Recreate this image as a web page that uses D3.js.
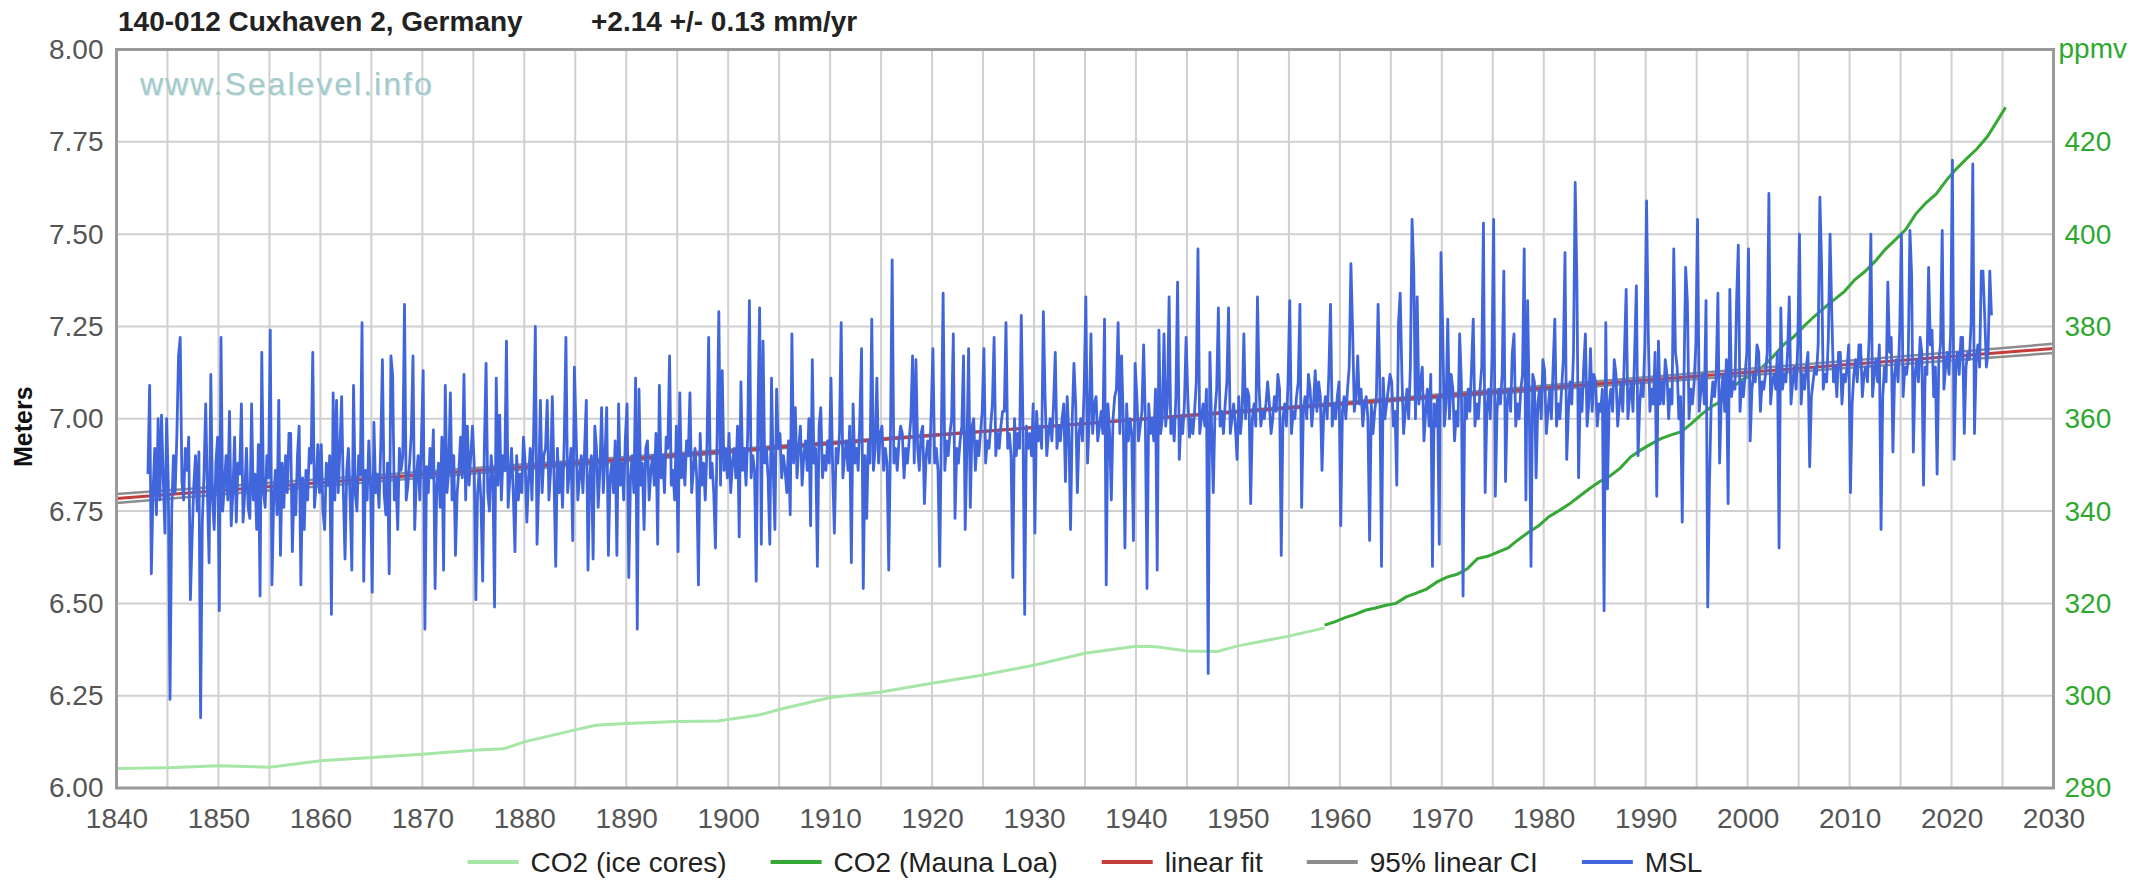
<!DOCTYPE html>
<html><head><meta charset="utf-8">
<script src="https://cdn.jsdelivr.net/npm/d3@7"></script>
<style>
html,body{margin:0;padding:0;background:#fff;}
svg{display:block;font-family:"Liberation Sans",Arial,sans-serif;}
</style></head><body>
<svg id="chart" width="2135" height="880"></svg>
<script>
// ---------- texts ----------
const titleStation = "140-012 Cuxhaven 2, Germany";
const titleRate = "+2.14 +/- 0.13 mm/yr";
const leftAxisTitle = "Meters";
const rightAxisTitle = "ppmv";
const watermarkText = "www.Sealevel.info";
const legendLabels = ["CO2 (ice cores)", "CO2 (Mauna Loa)", "linear fit", "95% linear CI", "MSL"];

// ---------- ticks ----------
const xTickYears = [1840,1850,1860,1870,1880,1890,1900,1910,1920,1930,1940,1950,1960,1970,1980,1990,2000,2010,2020,2030];
const xGridYears = [1840,1845,1850,1855,1860,1865,1870,1875,1880,1885,1890,1895,1900,1905,1910,1915,1920,1925,1930,1935,1940,1945,1950,1955,1960,1965,1970,1975,1980,1985,1990,1995,2000,2005,2010,2015,2020,2025,2030];
const yTickMeters = [6.00,6.25,6.50,6.75,7.00,7.25,7.50,7.75,8.00];
const y2TickPpmv = [280,300,320,340,360,380,400,420];

// ---------- CO2 ice cores [year, ppmv] ----------
const co2IceYears = [1840,1845,1850,1855,1860,1865,1870,1875,1878,1880,1885,1887,1890,1895,1899,1903,1905,1910,1915,1920,1925,1930,1935,1940,1942,1945,1948,1950,1955,1958.5];
const co2IcePpmv  = [284.2,284.4,284.8,284.5,285.9,286.6,287.3,288.2,288.5,290.0,292.6,293.6,294.0,294.4,294.5,295.8,297.0,299.6,300.8,302.7,304.5,306.6,309.2,310.7,310.6,309.7,309.6,310.8,312.9,314.7];

// ---------- CO2 Mauna Loa [year, ppmv] ----------
const co2MloYears = [1958.5,1959.5,1960.5,1961.5,1962.5,1963.5,1964.5,1965.5,1966.5,1967.5,1968.5,1969.5,1970.5,1971.5,1972.5,1973.5,1974.5,1975.5,1976.5,1977.5,1978.5,1979.5,1980.5,1981.5,1982.5,1983.5,1984.5,1985.5,1986.5,1987.5,1988.5,1989.5,1990.5,1991.5,1992.5,1993.5,1994.5,1995.5,1996.5,1997.5,1998.5,1999.5,2000.5,2001.5,2002.5,2003.5,2004.5,2005.5,2006.5,2007.5,2008.5,2009.5,2010.5,2011.5,2012.5,2013.5,2014.5,2015.5,2016.5,2017.5,2018.5,2019.5,2020.5,2021.5,2022.5,2023.5,2024.5,2025.3];
const co2MloPpmv  = [315.3,316.0,316.9,317.6,318.5,319.0,319.6,320.0,321.4,322.2,323.1,324.6,325.7,326.3,327.5,329.7,330.2,331.1,332.0,333.8,335.4,336.8,338.8,340.1,341.5,343.2,344.9,346.4,347.6,349.3,351.7,353.2,354.5,355.7,356.5,357.2,359.0,361.0,362.7,363.9,366.8,368.5,369.7,371.3,373.5,376.0,377.7,380.0,382.1,384.0,385.8,387.6,390.1,391.9,394.1,396.7,398.8,401.0,404.4,406.8,408.7,411.7,414.2,416.4,418.5,421.1,424.6,427.5];

// ---------- linear fit and 95% CI (meters at 1840 and 2030) ----------
const fitYears = [1840, 2030];
const fitMeters = [6.784, 7.190];
const ciUpperMeters = [6.772, 7.203];
const ciLowerMeters = [6.796, 7.178];

// ---------- MSL: six bimonthly means per year, starting 1843 ----------
const mslFirstYear = 1843;
const mslValues = [
6.85,7.09,6.58,6.80,6.92,6.74, // 1843
7.00,6.78,7.01,6.84,6.69,7.00,
6.82,6.24,6.75,6.90,6.80,6.95,
7.17,7.22,6.83,6.78,6.92,6.86,
6.95,6.51,6.68,6.82,6.90,6.75,
6.91,6.19,6.72,6.85,7.04,6.80,
6.61,7.12,6.78,6.70,6.88,6.95,
6.48,7.22,6.75,6.82,6.90,6.78, // 1850
7.02,6.71,6.80,6.95,6.72,6.88,
6.85,7.04,6.72,6.80,6.92,6.76,
6.73,7.04,6.78,6.85,6.70,6.93,
6.52,7.18,6.80,6.76,6.90,6.84,
7.24,6.55,6.78,6.86,6.74,7.05,
6.63,6.88,6.76,6.90,6.80,6.96,
6.96,6.64,6.82,6.74,6.90,6.98,
6.55,6.84,6.70,6.86,6.78,6.92,
6.88,7.18,6.76,6.82,6.93,6.80,
6.93,6.75,6.70,6.88,6.82,6.90, // 1860
6.47,7.07,6.78,7.05,6.80,6.92,
7.06,6.80,6.62,6.86,6.92,6.78,
6.59,7.09,6.80,6.75,6.90,6.85,
7.26,6.56,6.86,6.78,6.94,6.82,
6.53,6.99,6.80,6.85,6.76,6.92,
7.16,6.80,6.74,6.88,6.58,7.17,
7.12,6.78,6.84,6.70,6.92,6.86,
6.90,7.31,6.78,6.82,6.88,6.96,
7.17,6.70,6.84,6.90,6.78,6.95,
7.13,6.43,6.87,6.80,6.92,6.84, // 1870
6.97,6.54,6.82,6.88,6.76,6.95,
6.59,7.09,6.80,6.86,7.07,6.78,
6.90,6.63,6.80,6.86,6.95,6.84,
7.12,6.78,6.98,6.82,6.90,6.98,
6.88,6.51,6.80,6.86,6.78,6.56,
6.92,7.15,6.80,6.75,6.90,6.84,
6.49,7.11,6.82,7.01,6.78,6.90,
6.86,7.21,6.76,6.84,6.92,6.80,
6.64,6.90,6.78,6.85,6.80,6.95,
6.88,6.72,6.84,6.92,6.78,6.96, // 1880
7.25,6.66,6.82,7.05,6.80,6.90,
6.92,7.05,6.78,6.86,7.06,6.84,
6.60,6.92,6.80,6.88,6.76,6.94,
7.22,6.80,6.86,6.92,6.67,7.14,
6.96,6.78,6.84,6.90,6.80,6.92,
7.05,6.59,6.84,6.90,6.62,6.98,
6.92,6.76,6.86,7.03,6.80,6.90,
7.03,6.63,6.84,6.88,6.80,6.94,
6.63,7.04,6.82,6.88,6.78,6.95,
7.04,6.57,6.84,6.90,6.80,7.11, // 1890
6.43,7.08,6.82,6.88,6.70,6.92,
6.94,6.78,6.86,6.90,6.82,6.96,
6.66,7.09,6.84,6.90,6.80,6.95,
6.92,7.17,6.82,6.86,6.78,6.98,
6.64,7.07,6.84,6.90,6.82,6.94,
6.90,7.07,6.80,6.86,6.92,6.84,
6.55,6.96,6.82,6.88,6.78,6.92,
7.22,6.84,6.88,6.80,6.65,6.96,
7.29,6.82,7.13,6.86,6.92,6.84,
6.96,6.80,6.88,6.92,6.84,6.98, // 1900
6.68,7.10,6.86,6.92,6.82,6.96,
7.32,6.84,6.90,6.86,6.56,7.00,
7.30,6.66,7.21,6.88,6.92,6.84,
6.66,7.11,6.86,6.70,7.08,6.92,
6.96,6.84,6.90,6.86,6.80,6.94,
6.74,7.23,6.88,7.03,6.84,6.92,
6.98,6.82,6.90,6.94,6.86,7.00,
6.71,7.16,6.88,6.92,6.60,6.98,
7.03,6.84,6.90,6.86,6.94,6.88,
7.11,6.86,6.69,6.92,6.88,6.96, // 1910
7.26,6.84,6.90,6.94,6.86,6.98,
6.61,7.04,6.88,6.92,6.86,7.00,
7.19,6.54,6.90,6.73,6.94,6.88,
7.27,6.86,6.92,7.11,6.88,6.96,
6.98,6.86,6.92,6.88,6.59,6.94,
7.43,6.88,6.92,6.86,6.94,6.98,
6.96,6.84,6.92,6.88,6.94,7.00,
7.17,6.88,7.16,6.92,6.86,6.96,
6.98,6.77,6.90,6.94,6.88,7.02,
7.19,6.88,6.92,6.86,6.60,6.98, // 1920
7.34,6.86,6.94,6.90,6.96,7.00,
7.23,6.73,6.92,6.88,6.94,6.98,
7.17,6.70,6.92,7.19,6.76,6.98,
7.00,6.86,6.94,6.90,6.96,7.02,
7.19,6.88,6.94,6.92,6.98,7.04,
7.22,6.90,6.96,6.92,6.98,7.02,
7.02,7.26,6.92,6.96,6.90,6.57,
7.00,6.90,6.96,6.92,7.28,6.98,
6.47,6.98,6.92,6.96,6.90,7.04,
6.69,7.02,6.94,6.98,6.92,7.29, // 1930
7.06,6.90,6.96,7.00,6.94,7.04,
7.18,6.92,6.98,6.94,7.00,7.04,
6.83,7.06,6.96,6.70,7.00,7.15,
7.04,6.80,6.96,7.00,6.94,7.08,
7.33,6.88,7.00,7.23,6.96,7.04,
7.06,6.94,6.98,7.02,6.96,7.27,
6.55,7.04,6.96,6.78,7.00,7.06,
7.08,7.26,6.96,7.17,7.00,6.65,
7.04,6.94,7.00,6.96,6.67,7.15,
7.06,6.94,6.98,7.02,7.20,7.00, // 1940
6.54,7.04,6.96,7.00,6.94,7.08,
6.59,7.24,6.96,7.00,7.23,6.98,
7.04,7.33,6.96,7.00,6.94,7.06,
7.37,6.89,7.00,6.96,7.04,7.22,
7.06,6.95,7.00,6.96,7.02,7.10,
7.46,6.96,7.00,7.04,6.98,7.08,
6.31,7.18,6.98,6.80,7.02,7.08,
7.30,6.98,7.02,6.96,7.04,7.10,
7.30,6.96,7.00,7.04,6.98,6.89,
7.06,6.96,7.02,7.23,7.00,7.08, // 1950
7.06,6.77,7.00,7.04,6.98,7.33,
7.08,6.98,7.02,7.00,7.04,7.10,
7.04,6.96,7.00,7.06,7.02,7.12,
7.08,6.63,7.00,7.04,6.98,7.10,
7.32,6.96,7.02,7.00,7.06,7.10,
7.31,6.76,7.02,7.06,7.00,7.12,
7.08,6.98,7.04,7.13,7.02,7.10,
7.06,6.86,7.02,7.06,7.00,7.12,
7.31,6.98,7.04,7.00,7.06,7.10,
6.71,7.02,7.06,7.00,7.08,7.14, // 1960
7.42,7.24,7.02,7.06,7.17,7.04,
7.08,6.98,7.04,7.06,7.00,6.67,
7.04,6.96,7.02,7.06,7.31,7.10,
6.60,7.11,7.00,7.04,7.08,7.12,
7.10,6.98,7.02,6.82,7.26,7.34,
7.12,6.96,7.02,7.08,7.00,7.14,
7.54,7.40,7.00,7.33,7.04,7.10,
7.14,6.94,7.02,7.08,6.98,7.12,
6.60,7.04,6.98,7.06,6.66,7.45,
7.25,6.98,7.04,7.27,7.00,7.12, // 1970
7.08,6.94,7.02,6.98,7.23,7.10,
6.52,7.06,7.00,7.08,7.02,7.14,
7.27,6.98,7.04,7.00,7.08,7.14,
7.53,6.80,7.02,7.08,7.00,7.16,
7.54,6.79,7.02,7.08,7.04,7.12,
7.40,6.83,7.04,7.08,7.02,7.18,
7.23,6.98,7.04,7.00,7.08,7.12,
7.46,6.78,7.32,7.02,6.60,7.12,
7.10,6.84,7.04,7.08,7.00,7.16,
7.13,6.96,7.02,7.08,7.00,7.14, // 1980
7.27,6.98,7.04,7.00,7.08,7.16,
7.45,6.89,7.02,7.10,7.04,7.18,
7.64,7.37,6.84,7.08,7.02,7.14,
7.23,6.98,7.04,7.19,7.02,7.12,
7.10,6.98,7.04,7.02,7.08,6.48,
7.26,6.81,7.04,7.08,7.02,7.16,
7.12,6.98,7.04,7.10,7.02,7.18,
7.35,7.00,7.06,7.10,7.02,7.18,
7.36,6.90,7.04,7.10,7.06,7.20,
7.59,7.23,7.02,7.08,7.04,7.18, // 1990
6.79,7.21,7.04,7.10,7.04,7.16,
7.12,7.00,7.08,7.04,7.46,7.18,
7.14,7.00,7.06,6.72,7.10,7.41,
7.32,7.00,7.08,7.04,7.10,7.20,
7.54,7.02,7.08,7.12,7.04,7.32,
6.49,6.82,7.04,7.10,7.06,7.12,
7.34,6.88,7.06,7.12,7.02,7.16,
6.77,7.35,7.06,7.10,7.08,7.32,
7.47,7.02,7.10,7.06,7.12,7.18,
7.46,6.94,7.08,7.12,7.10,7.20, // 2000
7.18,7.02,7.10,7.08,7.12,7.18,
7.61,7.04,7.10,7.12,7.08,7.18,
6.65,7.30,7.08,7.12,7.10,7.18,
7.33,7.04,7.10,7.14,7.08,7.20,
7.50,7.04,7.12,7.08,7.14,7.18,
6.87,7.06,7.10,7.14,7.12,7.20,
7.60,7.42,7.08,7.12,7.10,7.22,
7.50,7.29,7.10,7.14,7.06,7.18,
7.18,7.04,7.12,7.10,7.14,7.20,
6.80,7.04,7.12,7.16,7.10,7.20, // 2010
7.20,7.06,7.12,7.14,7.10,7.22,
7.50,7.06,7.12,7.16,7.10,7.20,
6.70,7.06,7.14,7.10,7.37,7.18,
7.22,6.91,7.12,7.16,7.10,7.24,
7.50,7.06,7.14,7.12,7.16,7.51,
7.39,6.91,7.12,7.16,7.10,7.22,
7.18,6.82,7.14,7.12,7.41,7.20,
7.24,7.06,7.14,6.85,7.16,7.20,
7.51,7.08,7.14,7.18,7.12,7.24,
7.70,6.89,7.14,7.18,7.12,7.22, // 2020
7.22,6.96,7.14,7.18,7.16,7.26,
7.69,6.96,7.16,7.20,7.14,7.40,
7.40,7.28,7.14,7.18,7.40,7.28  // 2023
];
const mslPerYear = 6;

// ---------- colours ----------
const colIce = "#a6e6a6", colMlo = "#36a836", colFit = "#c43c3c", colCI = "#8c8c8c", colMsl = "#4166dc";

// ---------- layout ----------
const svg = d3.select("#chart");
const L = 116.5, R = 2053.5, T = 49.5, B = 788;
const x = d3.scaleLinear().domain([1840, 2030]).range([L, R]);
const y = d3.scaleLinear().domain([6, 8]).range([B, T]);
const y2 = d3.scaleLinear().domain([280, 440]).range([B, T]);

// gridlines
const grid = svg.append("g");
grid.selectAll("line.v").data(xGridYears).join("line")
  .attr("x1", d => x(d)).attr("x2", d => x(d)).attr("y1", T).attr("y2", B)
  .attr("stroke", "#d0d0d0").attr("stroke-width", 2);
grid.selectAll("line.h").data(yTickMeters).join("line")
  .attr("x1", L).attr("x2", R).attr("y1", d => y(d)).attr("y2", d => y(d))
  .attr("stroke", "#d0d0d0").attr("stroke-width", 2);

// watermark
svg.append("text").attr("x", 141).attr("y", 96).text(watermarkText)
  .attr("font-size", 32).attr("letter-spacing", 2).attr("fill", "#dde9e9");
svg.append("text").attr("x", 140).attr("y", 95).text(watermarkText)
  .attr("font-size", 32).attr("letter-spacing", 2).attr("fill", "#a3cbcb");

// clip
svg.append("clipPath").attr("id", "plotclip").append("rect")
  .attr("x", L).attr("y", T).attr("width", R - L).attr("height", B - T);
const plot = svg.append("g").attr("clip-path", "url(#plotclip)");

// CO2 ice cores
const iceData = co2IceYears.map((yr, i) => [yr, co2IcePpmv[i]]);
plot.append("path").datum(iceData)
  .attr("d", d3.line().x(d => x(d[0])).y(d => y2(d[1])))
  .attr("fill", "none").attr("stroke", colIce).attr("stroke-width", 3);

// CO2 Mauna Loa
const mloData = co2MloYears.map((yr, i) => [yr, co2MloPpmv[i]]);
plot.append("path").datum(mloData)
  .attr("d", d3.line().x(d => x(d[0])).y(d => y2(d[1])))
  .attr("fill", "none").attr("stroke", colMlo).attr("stroke-width", 3);

// CI + fit
const lineXY = d3.line().x(d => x(d[0])).y(d => y(d[1]));
[ciUpperMeters, ciLowerMeters].forEach(vals => {
  plot.append("path").datum(fitYears.map((yr, i) => [yr, vals[i]]))
    .attr("d", lineXY).attr("fill", "none").attr("stroke", colCI).attr("stroke-width", 2.5);
});
plot.append("path").datum(fitYears.map((yr, i) => [yr, fitMeters[i]]))
  .attr("d", lineXY).attr("fill", "none").attr("stroke", colFit).attr("stroke-width", 3);

// MSL
const mslData = mslValues.map((v, i) => [mslFirstYear + (i + 0.5) / mslPerYear, v]);
plot.append("path").datum(mslData)
  .attr("d", lineXY).attr("fill", "none").attr("stroke", colMsl)
  .attr("stroke-width", 2.8).attr("stroke-linejoin", "round");

// frame
svg.append("rect").attr("x", L).attr("y", T).attr("width", R - L).attr("height", B - T)
  .attr("fill", "none").attr("stroke", "#9a9a9a").attr("stroke-width", 3);

// axes
const fs = 28;
const ff = "Liberation Sans, Arial, sans-serif";
const xAxis = svg.append("g").attr("transform", `translate(0,${B})`)
  .call(d3.axisBottom(x).tickValues(xTickYears).tickFormat(d3.format("d")).tickSize(0).tickPadding(20));
xAxis.select(".domain").remove();
xAxis.selectAll("text").attr("font-size", fs).attr("fill", "#555").attr("font-family", ff);

const yAxis = svg.append("g").attr("transform", `translate(${L},0)`)
  .call(d3.axisLeft(y).tickValues(yTickMeters).tickFormat(d3.format(".2f")).tickSize(0).tickPadding(13));
yAxis.select(".domain").remove();
yAxis.selectAll("text").attr("font-size", fs).attr("fill", "#555").attr("font-family", ff);

const y2Axis = svg.append("g").attr("transform", `translate(${R},0)`)
  .call(d3.axisRight(y2).tickValues(y2TickPpmv).tickFormat(d3.format("d")).tickSize(0).tickPadding(11));
y2Axis.select(".domain").remove();
y2Axis.selectAll("text").attr("font-size", fs).attr("fill", "#2ea82e").attr("font-family", ff);
svg.append("text").attr("x", R + 5).attr("y", y2(440)).attr("dy", "0.32em")
  .attr("font-size", fs).attr("fill", "#2ea82e").text(rightAxisTitle);

// left axis title
svg.append("text").attr("transform", `translate(32,${(T + B) / 2 + 8}) rotate(-90)`)
  .attr("text-anchor", "middle").attr("font-size", 25).attr("font-weight", "bold")
  .attr("fill", "#111").text(leftAxisTitle);

// title
svg.append("text").attr("x", 118).attr("y", 31).attr("font-size", 28).attr("font-weight", "bold")
  .attr("fill", "#222").text(titleStation);
svg.append("text").attr("x", 591).attr("y", 31).attr("font-size", 28).attr("font-weight", "bold")
  .attr("fill", "#222").text(titleRate);

// legend
const legendColors = [colIce, colMlo, colFit, colCI, colMsl];
const lg = svg.append("g");
let cx = 0;
legendLabels.forEach((lab, i) => {
  const g = lg.append("g").attr("transform", `translate(${cx},0)`);
  g.append("line").attr("x1", 0).attr("x2", 51).attr("y1", 0).attr("y2", 0)
    .attr("stroke", legendColors[i]).attr("stroke-width", 4);
  const t = g.append("text").attr("x", 63).attr("y", 0).attr("dy", "0.35em")
    .attr("font-size", 28).attr("fill", "#222").text(lab);
  const w = t.node().getComputedTextLength();
  cx += 63 + w + 44;
});
const totalW = cx - 44;
lg.attr("transform", `translate(${(L + R) / 2 - totalW / 2},862)`);
</script>
</body></html>
